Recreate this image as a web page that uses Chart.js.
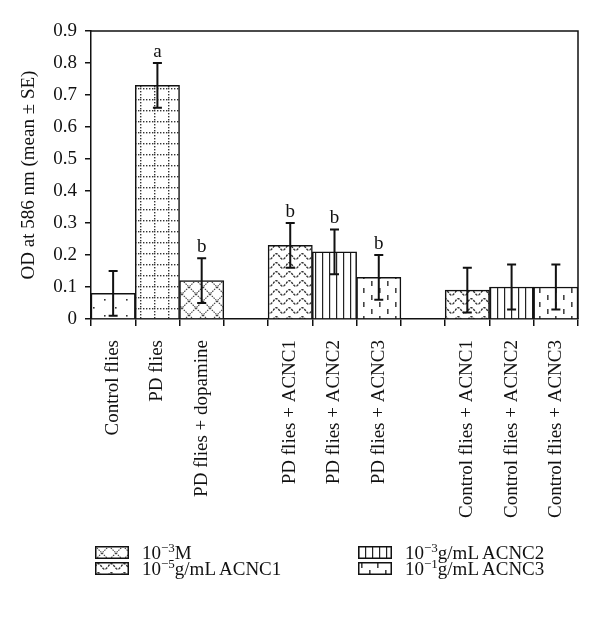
<!DOCTYPE html>
<html lang="en">
<head>
<meta charset="utf-8">
<title>OD at 586 nm</title>
<script src="https://cdn.jsdelivr.net/npm/chart.js@4.4.1/dist/chart.umd.min.js"></script>
<style>
  body { margin: 0; background: #fff; }
  #wrap { position: relative; width: 600px; height: 619px; }
  .leg { position: absolute; font-family: "Liberation Serif", serif; font-size: 19px; color: #111; white-space: nowrap; line-height: 16px; }
  .leg canvas { vertical-align: middle; margin-right: 13px; position: relative; top: -2px; }
  .leg sup { font-size: 13px; vertical-align: 7px; line-height: 0; }
</style>
</head>
<body>
<div id="wrap">
  <canvas id="chart" width="600" height="619"></canvas>
  <div class="leg" style="left:95px;top:545px"><canvas id="sw1" width="34" height="13"></canvas>10<sup>&minus;3</sup>M</div>
  <div class="leg" style="left:95px;top:561px"><canvas id="sw2" width="34" height="13"></canvas>10<sup>&minus;5</sup>g/mL ACNC1</div>
  <div class="leg" style="left:358px;top:545px"><canvas id="sw3" width="34" height="13"></canvas>10<sup>&minus;3</sup>g/mL ACNC2</div>
  <div class="leg" style="left:358px;top:561px"><canvas id="sw4" width="34" height="13"></canvas>10<sup>&minus;1</sup>g/mL ACNC3</div>
</div>

<script>
// groups (empty strings = gaps between groups)
const labels = ['Control flies', 'PD flies', 'PD flies + dopamine', '',
  'PD flies + ACNC1', 'PD flies + ACNC2', 'PD flies + ACNC3', '',
  'Control flies + ACNC1', 'Control flies + ACNC2', 'Control flies + ACNC3'];
const means = [0.08, 0.73, 0.12, null, 0.23, 0.21, 0.13, null, 0.09, 0.10, 0.10];
const errs  = [0.07, 0.07, 0.07, null, 0.07, 0.07, 0.07, null, 0.07, 0.07, 0.07];
const letters = ['', 'a', 'b', '', 'b', 'b', 'b', '', '', '', ''];
const fills = ['dots', 'grid', 'cross', null, 'wave', 'vline', 'dash', null, 'wave', 'vline', 'dash'];

const serif = '"Liberation Serif", "Times New Roman", serif';

// hatch patterns ---------------------------------------------------------
function tile(w, h, draw) {
  const c = document.createElement('canvas');
  c.width = w; c.height = h;
  const g = c.getContext('2d');
  g.fillStyle = '#fff';
  g.fillRect(0, 0, w, h);
  draw(g);
  return c;
}
const tiles = {
  dots: tile(22, 16, g => {
    g.fillStyle = '#333';
    g.fillRect(5, 3, 1.6, 1.6);
    g.fillRect(16, 11, 1.6, 1.6);
  }),
  grid: tile(14, 11, g => {
    g.fillStyle = '#333';
    for (let x = 0; x < 14; x += 3) g.fillRect(x, 0, 1.4, 1.4);
    for (let y = 3; y < 11; y += 3) g.fillRect(0, y, 1.4, 1.4);
  }),
  cross: tile(14, 14, g => {
    g.strokeStyle = '#444'; g.lineWidth = 1.1;
    g.setLineDash([1.6, 0.9]);
    g.beginPath();
    g.moveTo(0, 0); g.lineTo(14, 14);
    g.moveTo(14, 0); g.lineTo(0, 14);
    g.stroke();
  }),
  wave: tile(13, 9, g => {
    g.strokeStyle = '#333'; g.lineWidth = 1.4;
    g.setLineDash([2.4, 1.1]);
    g.beginPath();
    for (let x = 0; x <= 13; x += 0.5) {
      const y = 4.5 - 2.8 * Math.sin(2 * Math.PI * x / 13);
      if (x === 0) g.moveTo(x, y); else g.lineTo(x, y);
    }
    g.stroke();
  }),
  vline: tile(7, 4, g => {
    g.fillStyle = '#222';
    g.fillRect(0, 0, 1.2, 4);
  }),
  dash: tile(16, 14, g => {
    g.fillStyle = '#444';
    g.fillRect(3, 1, 1.6, 5);
    g.fillRect(11, 8, 1.6, 5);
  })
};

const ctx = document.getElementById('chart').getContext('2d');
const pat = {};
for (const k in tiles) pat[k] = ctx.createPattern(tiles[k], 'repeat');

// legend swatches
[['sw1', 'cross'], ['sw2', 'wave'], ['sw3', 'vline'], ['sw4', 'dash']].forEach(([id, k]) => {
  const g = document.getElementById(id).getContext('2d');
  g.fillStyle = g.createPattern(tiles[k], 'repeat');
  g.fillRect(0, 0, 34, 13);
  g.strokeStyle = '#111'; g.lineWidth = 1.5;
  g.strokeRect(0.75, 0.75, 32.5, 11.5);
});

// error bars, letters and the closing box
const extras = {
  id: 'extras',
  afterDatasetsDraw(chart) {
    const c = chart.ctx;
    const y = chart.scales.y;
    const meta = chart.getDatasetMeta(0);
    c.save();
    c.strokeStyle = '#111';
    c.lineWidth = 2;
    meta.data.forEach((bar, i) => {
      if (means[i] == null) return;
      const x = bar.x;
      const yt = y.getPixelForValue(means[i] + errs[i]);
      const yb = y.getPixelForValue(means[i] - errs[i]);
      c.beginPath();
      c.moveTo(x, yt); c.lineTo(x, yb);
      c.moveTo(x - 4.5, yt); c.lineTo(x + 4.5, yt);
      c.moveTo(x - 4.5, yb); c.lineTo(x + 4.5, yb);
      c.stroke();
      if (letters[i]) {
        c.fillStyle = '#111';
        c.font = '19px ' + serif;
        c.textAlign = 'center';
        c.textBaseline = 'alphabetic';
        c.fillText(letters[i], x, yt - 6);
      }
    });
    const a = chart.chartArea;
    c.lineWidth = 1.5;
    c.beginPath();
    c.moveTo(a.left, a.top); c.lineTo(a.right, a.top); c.lineTo(a.right, a.bottom);
    c.stroke();
    c.restore();
  }
};

new Chart(ctx, {
  type: 'bar',
  data: {
    labels: labels,
    datasets: [{
      data: means,
      backgroundColor: fills.map(f => f ? pat[f] : 'transparent'),
      borderColor: '#111',
      borderWidth: 1.5,
      categoryPercentage: 1,
      barPercentage: 1
    }]
  },
  options: {
    responsive: false,
    animation: false,
    layout: { padding: { left: 14, right: 22, top: 31, bottom: 84 } },
    plugins: { legend: { display: false }, tooltip: { enabled: false } },
    scales: {
      x: {
        offset: true,
        grid: { offset: true, drawOnChartArea: false, tickLength: 7, color: '#111', lineWidth: 1.5 },
        border: { color: '#111', width: 1.5 },
        ticks: {
          autoSkip: false, maxRotation: 90, minRotation: 90, padding: 14,
          color: '#111', font: { family: serif, size: 19 }
        },
        afterFit: s => { s.height = 216; }
      },
      y: {
        min: 0, max: 0.9,
        grid: { drawOnChartArea: false, tickLength: 6, color: '#111', lineWidth: 1.5 },
        border: { color: '#111', width: 1.5 },
        ticks: {
          stepSize: 0.1, padding: 8, color: '#111',
          font: { family: serif, size: 19 },
          callback: v => v === 0 ? '0' : v.toFixed(1)
        },
        title: {
          display: true, text: 'OD at 586 nm (mean ± SE)', color: '#111',
          font: { family: serif, size: 19 }, padding: { top: 4, bottom: 4 }
        },
        afterFit: s => { s.width = 77; }
      }
    }
  },
  plugins: [extras]
});
</script>
</body>
</html>
